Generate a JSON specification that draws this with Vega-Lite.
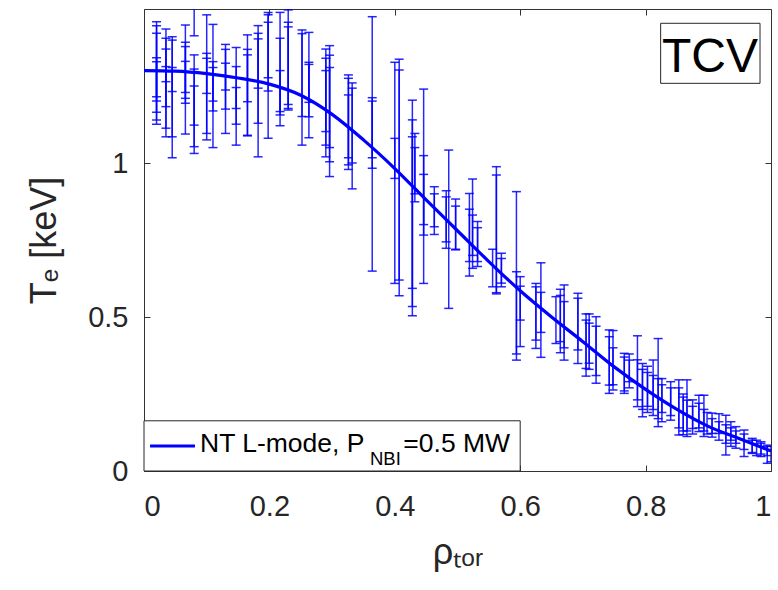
{
  "$schema": "https://vega.github.io/schema/vega-lite/v6.json",
  "width": 627,
  "height": 462,
  "autosize": {"type": "none"},
  "padding": {"left": 144, "top": 9, "right": 7, "bottom": 119},
  "background": "white",
  "config": {
    "view": {"stroke": "#333333", "strokeWidth": 1},
    "axis": {
      "domain": false, "grid": false, "tickColor": "#333333", "tickSize": -6, "tickWidth": 1,
      "labelFont": "Liberation Sans", "labelFontSize": 29, "labelColor": "#262626",
      "titleFont": "Liberation Sans", "titleFontSize": 36, "titleColor": "#262626", "titleFontWeight": "normal"
    }
  },
  "datasets": {
    "bars": [
      {"r":0.020,"lo":1.126,"hi":1.459},{"r":0.020,"lo":1.140,"hi":1.446},{"r":0.020,"lo":1.165,"hi":1.421},{"r":0.020,"lo":1.201,"hi":1.342},{"r":0.020,"lo":1.215,"hi":1.329},
      {"r":0.035,"lo":1.085,"hi":1.435},{"r":0.035,"lo":1.113,"hi":1.405},{"r":0.035,"lo":1.183,"hi":1.370},{"r":0.035,"lo":1.264,"hi":1.313},
      {"r":0.045,"lo":1.017,"hi":1.410},{"r":0.045,"lo":1.085,"hi":1.399},{"r":0.045,"lo":1.232,"hi":1.310},
      {"r":0.066,"lo":1.094,"hi":1.448},{"r":0.066,"lo":1.194,"hi":1.392},{"r":0.066,"lo":1.210,"hi":1.378},{"r":0.066,"lo":1.229,"hi":1.330},
      {"r":0.080,"lo":1.413,"hi":1.700},{"r":0.080,"lo":1.031,"hi":1.351},{"r":0.080,"lo":1.053,"hi":1.305},{"r":0.080,"lo":1.123,"hi":1.250},
      {"r":0.100,"lo":1.075,"hi":1.481},{"r":0.100,"lo":1.096,"hi":1.356},{"r":0.100,"lo":1.226,"hi":1.340},
      {"r":0.110,"lo":1.050,"hi":1.450},{"r":0.110,"lo":1.169,"hi":1.329},{"r":0.110,"lo":1.201,"hi":1.310},
      {"r":0.130,"lo":1.096,"hi":1.385},{"r":0.130,"lo":1.175,"hi":1.369},{"r":0.130,"lo":1.237,"hi":1.324},
      {"r":0.147,"lo":1.058,"hi":1.375},{"r":0.147,"lo":1.126,"hi":1.313},{"r":0.147,"lo":1.177,"hi":1.245},
      {"r":0.165,"lo":1.088,"hi":1.416},{"r":0.165,"lo":1.090,"hi":1.369},{"r":0.165,"lo":1.199,"hi":1.351},
      {"r":0.182,"lo":1.020,"hi":1.446},{"r":0.182,"lo":1.129,"hi":1.421},{"r":0.182,"lo":1.243,"hi":1.403},
      {"r":0.198,"lo":1.080,"hi":1.489},{"r":0.198,"lo":1.234,"hi":1.481},{"r":0.198,"lo":1.277,"hi":1.457},
      {"r":0.217,"lo":1.121,"hi":1.489},{"r":0.217,"lo":1.156,"hi":1.405},{"r":0.217,"lo":1.167,"hi":1.300},
      {"r":0.230,"lo":1.172,"hi":1.497},{"r":0.230,"lo":1.177,"hi":1.457},{"r":0.230,"lo":1.190,"hi":1.442},
      {"r":0.252,"lo":1.058,"hi":1.432},{"r":0.252,"lo":1.151,"hi":1.420},
      {"r":0.263,"lo":1.082,"hi":1.424},{"r":0.263,"lo":1.197,"hi":1.327},{"r":0.263,"lo":1.150,"hi":1.320},
      {"r":0.290,"lo":1.020,"hi":1.370},{"r":0.290,"lo":1.102,"hi":1.340},{"r":0.290,"lo":1.058,"hi":1.300},
      {"r":0.296,"lo":0.956,"hi":1.381},{"r":0.296,"lo":1.004,"hi":1.310},{"r":0.296,"lo":1.050,"hi":1.350},
      {"r":0.326,"lo":0.979,"hi":1.286},{"r":0.326,"lo":1.017,"hi":1.275},{"r":0.326,"lo":0.994,"hi":1.221},
      {"r":0.332,"lo":0.916,"hi":1.243},{"r":0.332,"lo":1.000,"hi":1.260},
      {"r":0.364,"lo":0.649,"hi":1.475},{"r":0.364,"lo":0.983,"hi":1.212},{"r":0.364,"lo":1.017,"hi":1.201},
      {"r":0.400,"lo":0.609,"hi":1.327},{"r":0.400,"lo":0.950,"hi":1.080},
      {"r":0.407,"lo":0.569,"hi":1.337},{"r":0.407,"lo":0.620,"hi":1.302},
      {"r":0.428,"lo":0.504,"hi":1.204},{"r":0.428,"lo":0.534,"hi":1.140},{"r":0.428,"lo":0.593,"hi":1.085},
      {"r":0.432,"lo":0.874,"hi":1.096},{"r":0.432,"lo":0.900,"hi":1.050},
      {"r":0.446,"lo":0.609,"hi":1.240},{"r":0.446,"lo":0.766,"hi":1.024},{"r":0.446,"lo":0.800,"hi":0.963},
      {"r":0.463,"lo":0.768,"hi":0.923},{"r":0.463,"lo":0.793,"hi":0.900},
      {"r":0.482,"lo":0.723,"hi":0.910},{"r":0.482,"lo":0.744,"hi":0.890},
      {"r":0.486,"lo":0.528,"hi":1.042},
      {"r":0.497,"lo":0.718,"hi":0.883},{"r":0.497,"lo":0.720,"hi":0.860},
      {"r":0.519,"lo":0.633,"hi":0.901},{"r":0.519,"lo":0.680,"hi":0.850},
      {"r":0.524,"lo":0.658,"hi":0.948},{"r":0.524,"lo":0.700,"hi":0.831},
      {"r":0.532,"lo":0.664,"hi":0.810},{"r":0.532,"lo":0.680,"hi":0.790},
      {"r":0.556,"lo":0.598,"hi":0.720},
      {"r":0.562,"lo":0.575,"hi":0.988},{"r":0.562,"lo":0.579,"hi":0.961},
      {"r":0.570,"lo":0.598,"hi":0.707},{"r":0.570,"lo":0.610,"hi":0.690},
      {"r":0.594,"lo":0.360,"hi":0.907},{"r":0.594,"lo":0.380,"hi":0.647},
      {"r":0.600,"lo":0.404,"hi":0.631},{"r":0.600,"lo":0.490,"hi":0.600},
      {"r":0.625,"lo":0.398,"hi":0.609},{"r":0.625,"lo":0.425,"hi":0.598},
      {"r":0.633,"lo":0.369,"hi":0.676},{"r":0.633,"lo":0.450,"hi":0.580},
      {"r":0.657,"lo":0.414,"hi":0.566},
      {"r":0.664,"lo":0.384,"hi":0.590},{"r":0.664,"lo":0.420,"hi":0.570},
      {"r":0.670,"lo":0.360,"hi":0.604},{"r":0.670,"lo":0.400,"hi":0.550},
      {"r":0.692,"lo":0.349,"hi":0.577},{"r":0.692,"lo":0.393,"hi":0.561},
      {"r":0.705,"lo":0.308,"hi":0.510},{"r":0.705,"lo":0.333,"hi":0.490},
      {"r":0.710,"lo":0.330,"hi":0.510},{"r":0.710,"lo":0.350,"hi":0.480},
      {"r":0.721,"lo":0.285,"hi":0.501},{"r":0.721,"lo":0.310,"hi":0.470},
      {"r":0.742,"lo":0.252,"hi":0.458},{"r":0.742,"lo":0.279,"hi":0.436},
      {"r":0.748,"lo":0.263,"hi":0.456},{"r":0.748,"lo":0.280,"hi":0.400},
      {"r":0.766,"lo":0.252,"hi":0.382},{"r":0.766,"lo":0.260,"hi":0.370},
      {"r":0.774,"lo":0.270,"hi":0.380},{"r":0.774,"lo":0.290,"hi":0.360},
      {"r":0.787,"lo":0.209,"hi":0.439},{"r":0.787,"lo":0.231,"hi":0.361},
      {"r":0.795,"lo":0.176,"hi":0.349},{"r":0.795,"lo":0.200,"hi":0.330},
      {"r":0.803,"lo":0.190,"hi":0.340},{"r":0.803,"lo":0.210,"hi":0.320},
      {"r":0.812,"lo":0.180,"hi":0.360},{"r":0.812,"lo":0.200,"hi":0.310},
      {"r":0.820,"lo":0.144,"hi":0.430},{"r":0.820,"lo":0.170,"hi":0.300},
      {"r":0.826,"lo":0.160,"hi":0.300},{"r":0.826,"lo":0.190,"hi":0.280},
      {"r":0.840,"lo":0.165,"hi":0.290},{"r":0.840,"lo":0.180,"hi":0.270},
      {"r":0.853,"lo":0.117,"hi":0.296},{"r":0.853,"lo":0.140,"hi":0.270},
      {"r":0.860,"lo":0.118,"hi":0.250},{"r":0.860,"lo":0.130,"hi":0.240},
      {"r":0.866,"lo":0.112,"hi":0.296},{"r":0.866,"lo":0.130,"hi":0.230},
      {"r":0.875,"lo":0.138,"hi":0.231},{"r":0.875,"lo":0.120,"hi":0.210},
      {"r":0.885,"lo":0.128,"hi":0.246},{"r":0.885,"lo":0.140,"hi":0.220},
      {"r":0.893,"lo":0.112,"hi":0.246},{"r":0.893,"lo":0.130,"hi":0.200},
      {"r":0.898,"lo":0.120,"hi":0.190},
      {"r":0.906,"lo":0.122,"hi":0.188},{"r":0.906,"lo":0.110,"hi":0.170},
      {"r":0.917,"lo":0.122,"hi":0.186},{"r":0.917,"lo":0.100,"hi":0.160},
      {"r":0.928,"lo":0.052,"hi":0.181},{"r":0.928,"lo":0.090,"hi":0.150},
      {"r":0.936,"lo":0.100,"hi":0.160},{"r":0.936,"lo":0.080,"hi":0.140},
      {"r":0.944,"lo":0.074,"hi":0.144},{"r":0.944,"lo":0.090,"hi":0.130},
      {"r":0.957,"lo":0.047,"hi":0.133},{"r":0.957,"lo":0.070,"hi":0.120},
      {"r":0.970,"lo":0.057,"hi":0.106},{"r":0.970,"lo":0.060,"hi":0.100},
      {"r":0.977,"lo":0.050,"hi":0.100},
      {"r":0.984,"lo":0.047,"hi":0.095},{"r":0.984,"lo":0.055,"hi":0.090},
      {"r":0.994,"lo":0.025,"hi":0.084},{"r":0.994,"lo":0.050,"hi":0.080},
      {"r":1.000,"lo":0.030,"hi":0.080}
    ],
    "fit": [
      {"r":0.00,"t":1.300},{"r":0.05,"t":1.298},{"r":0.10,"t":1.290},{"r":0.15,"t":1.276},{"r":0.20,"t":1.256},
      {"r":0.25,"t":1.220},{"r":0.30,"t":1.158},{"r":0.35,"t":1.075},{"r":0.40,"t":0.982},{"r":0.45,"t":0.880},
      {"r":0.50,"t":0.780},{"r":0.55,"t":0.680},{"r":0.60,"t":0.585},{"r":0.65,"t":0.500},{"r":0.70,"t":0.420},
      {"r":0.75,"t":0.338},{"r":0.80,"t":0.265},{"r":0.85,"t":0.200},{"r":0.90,"t":0.145},{"r":0.95,"t":0.105},
      {"r":1.00,"t":0.065}
    ]
  },
  "layer": [
    {
      "data": {"name": "bars"},
      "mark": {"type": "rule", "clip": true, "color": "#0000ff", "strokeWidth": 1.5, "opacity": 0.85},
      "encoding": {
        "x": {"field": "r", "type": "quantitative", "scale": {"domain": [0, 1], "nice": false},
              "axis": {"orient": "bottom", "values": [0, 0.2, 0.4, 0.6, 0.8, 1], "format": "~g", "labelPadding": 27, "title": "ρₜₒᵣ", "titlePadding": 14}},
        "y": {"field": "lo", "type": "quantitative", "scale": {"domain": [0, 1.5], "nice": false},
              "axis": {"orient": "left", "values": [0, 0.5, 1], "format": "~g", "labelPadding": 22, "title": "Tₑ [keV]", "titlePadding": 24}},
        "y2": {"field": "hi"}
      }
    },
    {
      "data": {"name": "bars"},
      "mark": {"type": "tick", "orient": "horizontal", "clip": true, "color": "#0000ff", "size": 9, "thickness": 1.5, "opacity": 0.85},
      "encoding": {
        "x": {"field": "r", "type": "quantitative", "scale": {"domain": [0, 1], "nice": false},
              "axis": {"orient": "top", "values": [0, 0.2, 0.4, 0.6, 0.8, 1], "labels": false, "title": null}},
        "y": {"field": "lo", "type": "quantitative", "scale": {"domain": [0, 1.5], "nice": false},
              "axis": {"orient": "right", "values": [0, 0.5, 1], "labels": false, "title": null}}
      }
    },
    {
      "data": {"name": "bars"},
      "mark": {"type": "tick", "orient": "horizontal", "clip": true, "color": "#0000ff", "size": 9, "thickness": 1.5, "opacity": 0.85},
      "encoding": {
        "x": {"field": "r", "type": "quantitative", "scale": {"domain": [0, 1], "nice": false}, "axis": null},
        "y": {"field": "hi", "type": "quantitative", "scale": {"domain": [0, 1.5], "nice": false}, "axis": null}
      }
    },
    {
      "data": {"name": "fit"},
      "mark": {"type": "line", "color": "#0000ff", "strokeWidth": 3.2, "interpolate": "monotone"},
      "encoding": {
        "x": {"field": "r", "type": "quantitative", "scale": {"domain": [0, 1], "nice": false}, "axis": null},
        "y": {"field": "t", "type": "quantitative", "scale": {"domain": [0, 1.5], "nice": false}, "axis": null}
      }
    },
    {
      "data": {"values": [{}]},
      "mark": {"type": "rect", "fill": "white", "stroke": "#262626", "strokeWidth": 1},
      "encoding": {
        "x": {"datum": 0, "type": "quantitative", "axis": null}, "x2": {"datum": 0.6},
        "y": {"datum": 0, "type": "quantitative", "axis": null}, "y2": {"datum": 0.163}
      }
    },
    {
      "data": {"values": [{}]},
      "mark": {"type": "rule", "color": "#0000ff", "strokeWidth": 3},
      "encoding": {
        "x": {"datum": 0.0096, "type": "quantitative", "axis": null}, "x2": {"datum": 0.0813},
        "y": {"datum": 0.081, "type": "quantitative", "axis": null}
      }
    },
    {
      "data": {"values": [{}]},
      "mark": {"type": "text", "align": "left", "baseline": "alphabetic", "font": "Liberation Sans", "fontSize": 26.5, "color": "#000000"},
      "encoding": {
        "x": {"datum": 0.0893, "type": "quantitative", "axis": null},
        "y": {"datum": 0.0627, "type": "quantitative", "axis": null},
        "text": {"value": "NT L-mode, P"}
      }
    },
    {
      "data": {"values": [{}]},
      "mark": {"type": "text", "align": "left", "baseline": "alphabetic", "font": "Liberation Sans", "fontSize": 18.5, "color": "#000000"},
      "encoding": {
        "x": {"datum": 0.3604, "type": "quantitative", "axis": null},
        "y": {"datum": 0.0195, "type": "quantitative", "axis": null},
        "text": {"value": "NBI"}
      }
    },
    {
      "data": {"values": [{}]},
      "mark": {"type": "text", "align": "left", "baseline": "alphabetic", "font": "Liberation Sans", "fontSize": 26.5, "color": "#000000"},
      "encoding": {
        "x": {"datum": 0.4136, "type": "quantitative", "axis": null},
        "y": {"datum": 0.0627, "type": "quantitative", "axis": null},
        "text": {"value": "=0.5 MW"}
      }
    },
    {
      "data": {"values": [{}]},
      "mark": {"type": "rect", "fill": "white", "stroke": "#262626", "strokeWidth": 1},
      "encoding": {
        "x": {"datum": 0.824, "type": "quantitative", "axis": null}, "x2": {"datum": 0.9825},
        "y": {"datum": 1.2587, "type": "quantitative", "axis": null}, "y2": {"datum": 1.4536}
      }
    },
    {
      "data": {"values": [{}]},
      "mark": {"type": "text", "align": "center", "baseline": "alphabetic", "font": "Liberation Sans", "fontSize": 48, "color": "#000000"},
      "encoding": {
        "x": {"datum": 0.9027, "type": "quantitative", "axis": null},
        "y": {"datum": 1.2964, "type": "quantitative", "axis": null},
        "text": {"value": "TCV"}
      }
    }
  ],
  "resolve": {"axis": {"x": "independent", "y": "independent"}}
}
